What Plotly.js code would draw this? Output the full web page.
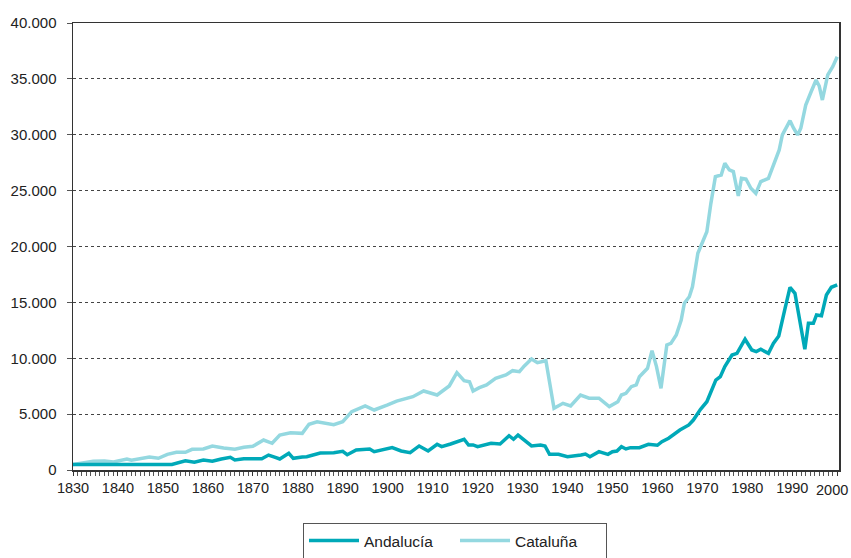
<!DOCTYPE html>
<html>
<head>
<meta charset="utf-8">
<script src="https://cdn.plot.ly/plotly-3.0.1.min.js"></script>
<style>html,body{margin:0;padding:0;background:#fff;}#chart{width:851px;height:558px;}</style>
</head>
<body>
<div id="chart"></div>
<script>
var andaluciaYears = [1830,1852,1855,1857,1859,1861,1863,1865,1866,1868,1872,1873.5,1875,1876,1878,1879,1881,1882,1885,1888,1890,1891,1893,1896,1897,1901,1903,1905,1907,1909,1911,1912,1914,1917,1918,1919,1920,1923,1925,1927,1928,1929,1932,1934,1935,1936,1938,1940,1943,1944,1945,1947,1949,1950,1951,1952,1953,1954,1956,1958,1960,1961,1962.5,1965,1967,1968,1969.6,1971,1973,1974,1975,1976.6,1977.7,1979.5,1981,1982,1983,1984.7,1985.8,1987,1988.4,1989.5,1990.6,1991.7,1992.8,1993.6,1994.7,1995.4,1996.5,1997.6,1998.7,2000];
var andaluciaValues = [500,500,830,690,895,780,985,1135,895,1010,1010,1340,1135,985,1490,1045,1160,1190,1520,1550,1670,1370,1790,1880,1640,2000,1700,1550,2150,1700,2300,2090,2330,2750,2240,2240,2090,2390,2330,3070,2750,3130,2150,2240,2150,1400,1400,1190,1340,1430,1190,1640,1400,1640,1700,2090,1880,2000,2000,2300,2210,2530,2840,3580,4030,4470,5430,6110,8050,8350,9250,10290,10440,11700,10740,10590,10800,10440,11330,11990,14470,16350,15810,13420,10800,13130,13130,13870,13800,15660,16350,16560];

var catalunaYears = [1830,1834.5,1837,1839,1842,1843,1847,1849,1851,1853,1855,1856.5,1859,1861,1863.5,1866,1868,1870,1872.4,1874.3,1876,1878.4,1881,1882.5,1884.3,1886,1888,1890,1892,1895,1897,1900,1902,1905.6,1908,1911,1913.7,1915.4,1917,1918.2,1919,1920.4,1922,1924,1926.3,1927.8,1929.3,1930.4,1932,1933.3,1935.2,1937,1939,1940.7,1942.9,1944.8,1947,1949.3,1951.2,1952,1953,1954.2,1955.3,1956,1957.8,1958.8,1959.8,1960.8,1962.1,1963,1964.2,1965.3,1966,1967.1,1967.8,1969,1969.7,1971,1971.9,1972.9,1974.2,1975,1976,1976.9,1978,1978.7,1979.7,1980.8,1981.9,1983,1984.7,1986,1987.1,1987.8,1989.5,1990.3,1991.2,1991.9,1993,1994.2,1995.3,1996,1996.7,1997.9,1999,2000];
var catalunaValues = [500,780,805,715,985,870,1160,1045,1400,1580,1580,1850,1880,2150,1970,1850,2030,2120,2685,2390,3130,3340,3280,4090,4320,4180,4050,4320,5220,5730,5370,5820,6170,6560,7070,6710,7520,8710,8000,7900,7070,7370,7610,8200,8500,8890,8800,9310,9930,9600,9780,5520,5970,5730,6710,6420,6420,5670,6110,6710,6860,7460,7610,8350,9100,10680,9250,7310,11190,11330,12080,13420,14920,15510,16400,19390,20130,21320,23860,26250,26400,27450,26850,26700,24520,26100,26040,25210,24760,25800,26100,27450,28640,29980,31260,30580,29980,30580,32660,33850,34900,34360,33110,35350,36090,36980];

var xTickVals = [1830,1840,1850,1860,1870,1880,1890,1900,1910,1920,1930,1940,1950,1960,1970,1980,1990,2000];
var xTickText = ['1830','1840','1850','1860','1870','1880','1890','1900','1910','1920','1930','1940','1950','1960','1970','1980','1990',''];
var lastTickLabel = '2000';
var yTickVals = [0,5000,10000,15000,20000,25000,30000,35000,40000];

var traces = [
  {x: catalunaYears, y: catalunaValues, name: 'Cataluña', type: 'scatter', mode: 'lines',
   line: {color: '#94D8E0', width: 3.5}},
  {x: andaluciaYears, y: andaluciaValues, name: 'Andalucía', type: 'scatter', mode: 'lines',
   line: {color: '#00A9B8', width: 3.5}}
];

var layout = {
  width: 851, height: 558,
  margin: {l: 73, r: 12, t: 23, b: 88, autoexpand: false},
  paper_bgcolor: '#fff', plot_bgcolor: '#fff',
  separators: ',.',
  font: {family: 'Liberation Sans, Arial, sans-serif', color: '#222'},
  showlegend: true,
  legend: {
    orientation: 'h', traceorder: 'reversed',
    x: (303 - 73) / 766, xanchor: 'left',
    y: -53 / 447, yanchor: 'top',
    bordercolor: '#555', borderwidth: 1,
    font: {size: 15.5, color: '#222'},
    itemwidth: 50,
    entrywidth: 86, entrywidthmode: 'pixels'
  },
  annotations: [{
    xref: 'x', yref: 'paper', x: 2000, y: 0, yshift: -10, xshift: -5,
    xanchor: 'center', yanchor: 'top', showarrow: false,
    text: lastTickLabel, font: {size: 14.5, color: '#222'}
  }],
  xaxis: {
    range: [1830, 2000.4],
    tickvals: xTickVals, ticktext: xTickText,
    ticks: 'outside', ticklen: 4, tickcolor: '#333', tickwidth: 1,
    minor: {dtick: 1, ticks: 'outside', ticklen: 4, tickcolor: '#555', tickwidth: 1, showgrid: false},
    showline: true, linecolor: '#333', linewidth: 1.5, mirror: true,
    showgrid: false, zeroline: false,
    tickfont: {size: 14.5, color: '#222'}
  },
  yaxis: {
    range: [0, 40000],
    tickvals: yTickVals,
    tickformat: ',d',
    ticks: 'outside', ticklen: 5, tickcolor: '#555', tickwidth: 1,
    ticklabelstandoff: 7,
    showline: true, linecolor: '#333', linewidth: 1.5, mirror: true,
    showgrid: true, gridcolor: '#444', gridwidth: 1, griddash: 'dot',
    zeroline: false,
    tickfont: {size: 15, color: '#222'}
  }
};

Plotly.newPlot('chart', traces, layout, {displayModeBar: false, staticPlot: true});
</script>
</body>
</html>
